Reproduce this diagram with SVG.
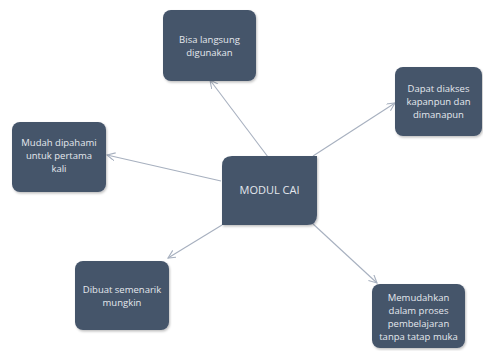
<svg xmlns="http://www.w3.org/2000/svg" width="483" height="351" viewBox="0 0 483 351">
<defs>
<style>
.box{fill:#44546a;filter:url(#sh)}
.t{font-family:"Open Sans","Liberation Sans",sans-serif;font-size:9.5px;fill:#e4e8ee;text-anchor:middle}
.c{stroke:#a7b0bf;stroke-width:1.1;fill:none;marker-end:url(#ah)}
</style>
<filter id="sh" x="-10%" y="-10%" width="125%" height="125%">
<feDropShadow dx="1" dy="1.5" stdDeviation="1.2" flood-color="#000" flood-opacity="0.25"/>
</filter>
<marker id="ah" markerWidth="10" markerHeight="10" refX="8" refY="4" orient="auto" markerUnits="userSpaceOnUse">
<path d="M0,0 L8,4 L0,8" fill="none" stroke="#a7b0bf" stroke-width="1.1"/>
</marker>
</defs>
<rect width="483" height="351" fill="#fff"/>
<g id="connectors">
<line class="c" x1="268" y1="157" x2="210" y2="80"/>
<line class="c" x1="313" y1="156" x2="395" y2="103"/>
<line class="c" x1="221" y1="181" x2="107" y2="155"/>
<line class="c" x1="222" y1="225" x2="168" y2="258"/>
<line class="c" x1="312" y1="223" x2="377" y2="283"/>
</g>
<g id="center">
<path class="box" d="M232,156 H317 V215 Q317,225 307,225 H222 V166 Q222,156 232,156 Z"/>
<text class="t" x="269.5" y="194" style="font-size:11px">MODUL CAI</text>
</g>
<g id="n-top">
<rect class="box" x="163" y="10" width="93" height="71" rx="8"/>
<text class="t" x="209.5" y="43">Bisa langsung</text>
<text class="t" x="209.5" y="56">digunakan</text>
</g>
<g id="n-right">
<rect class="box" x="395" y="67" width="87" height="69" rx="8"/>
<text class="t" x="438.5" y="92">Dapat diakses</text>
<text class="t" x="438.5" y="105">kapanpun dan</text>
<text class="t" x="438.5" y="118">dimanapun</text>
</g>
<g id="n-left">
<rect class="box" x="12" y="122" width="94" height="70" rx="8"/>
<text class="t" x="59" y="146">Mudah dipahami</text>
<text class="t" x="59" y="159">untuk pertama</text>
<text class="t" x="59" y="172">kali</text>
</g>
<g id="n-bottom-left">
<rect class="box" x="75" y="261" width="94" height="69" rx="8"/>
<text class="t" x="122" y="293">Dibuat semenarik</text>
<text class="t" x="122" y="306">mungkin</text>
</g>
<g id="n-bottom-right">
<rect class="box" x="372" y="284" width="93" height="64" rx="8"/>
<text class="t" x="418.5" y="301">Memudahkan</text>
<text class="t" x="418.5" y="314">dalam proses</text>
<text class="t" x="418.5" y="327">pembelajaran</text>
<text class="t" x="418.5" y="340">tanpa tatap muka</text>
</g>
</svg>
